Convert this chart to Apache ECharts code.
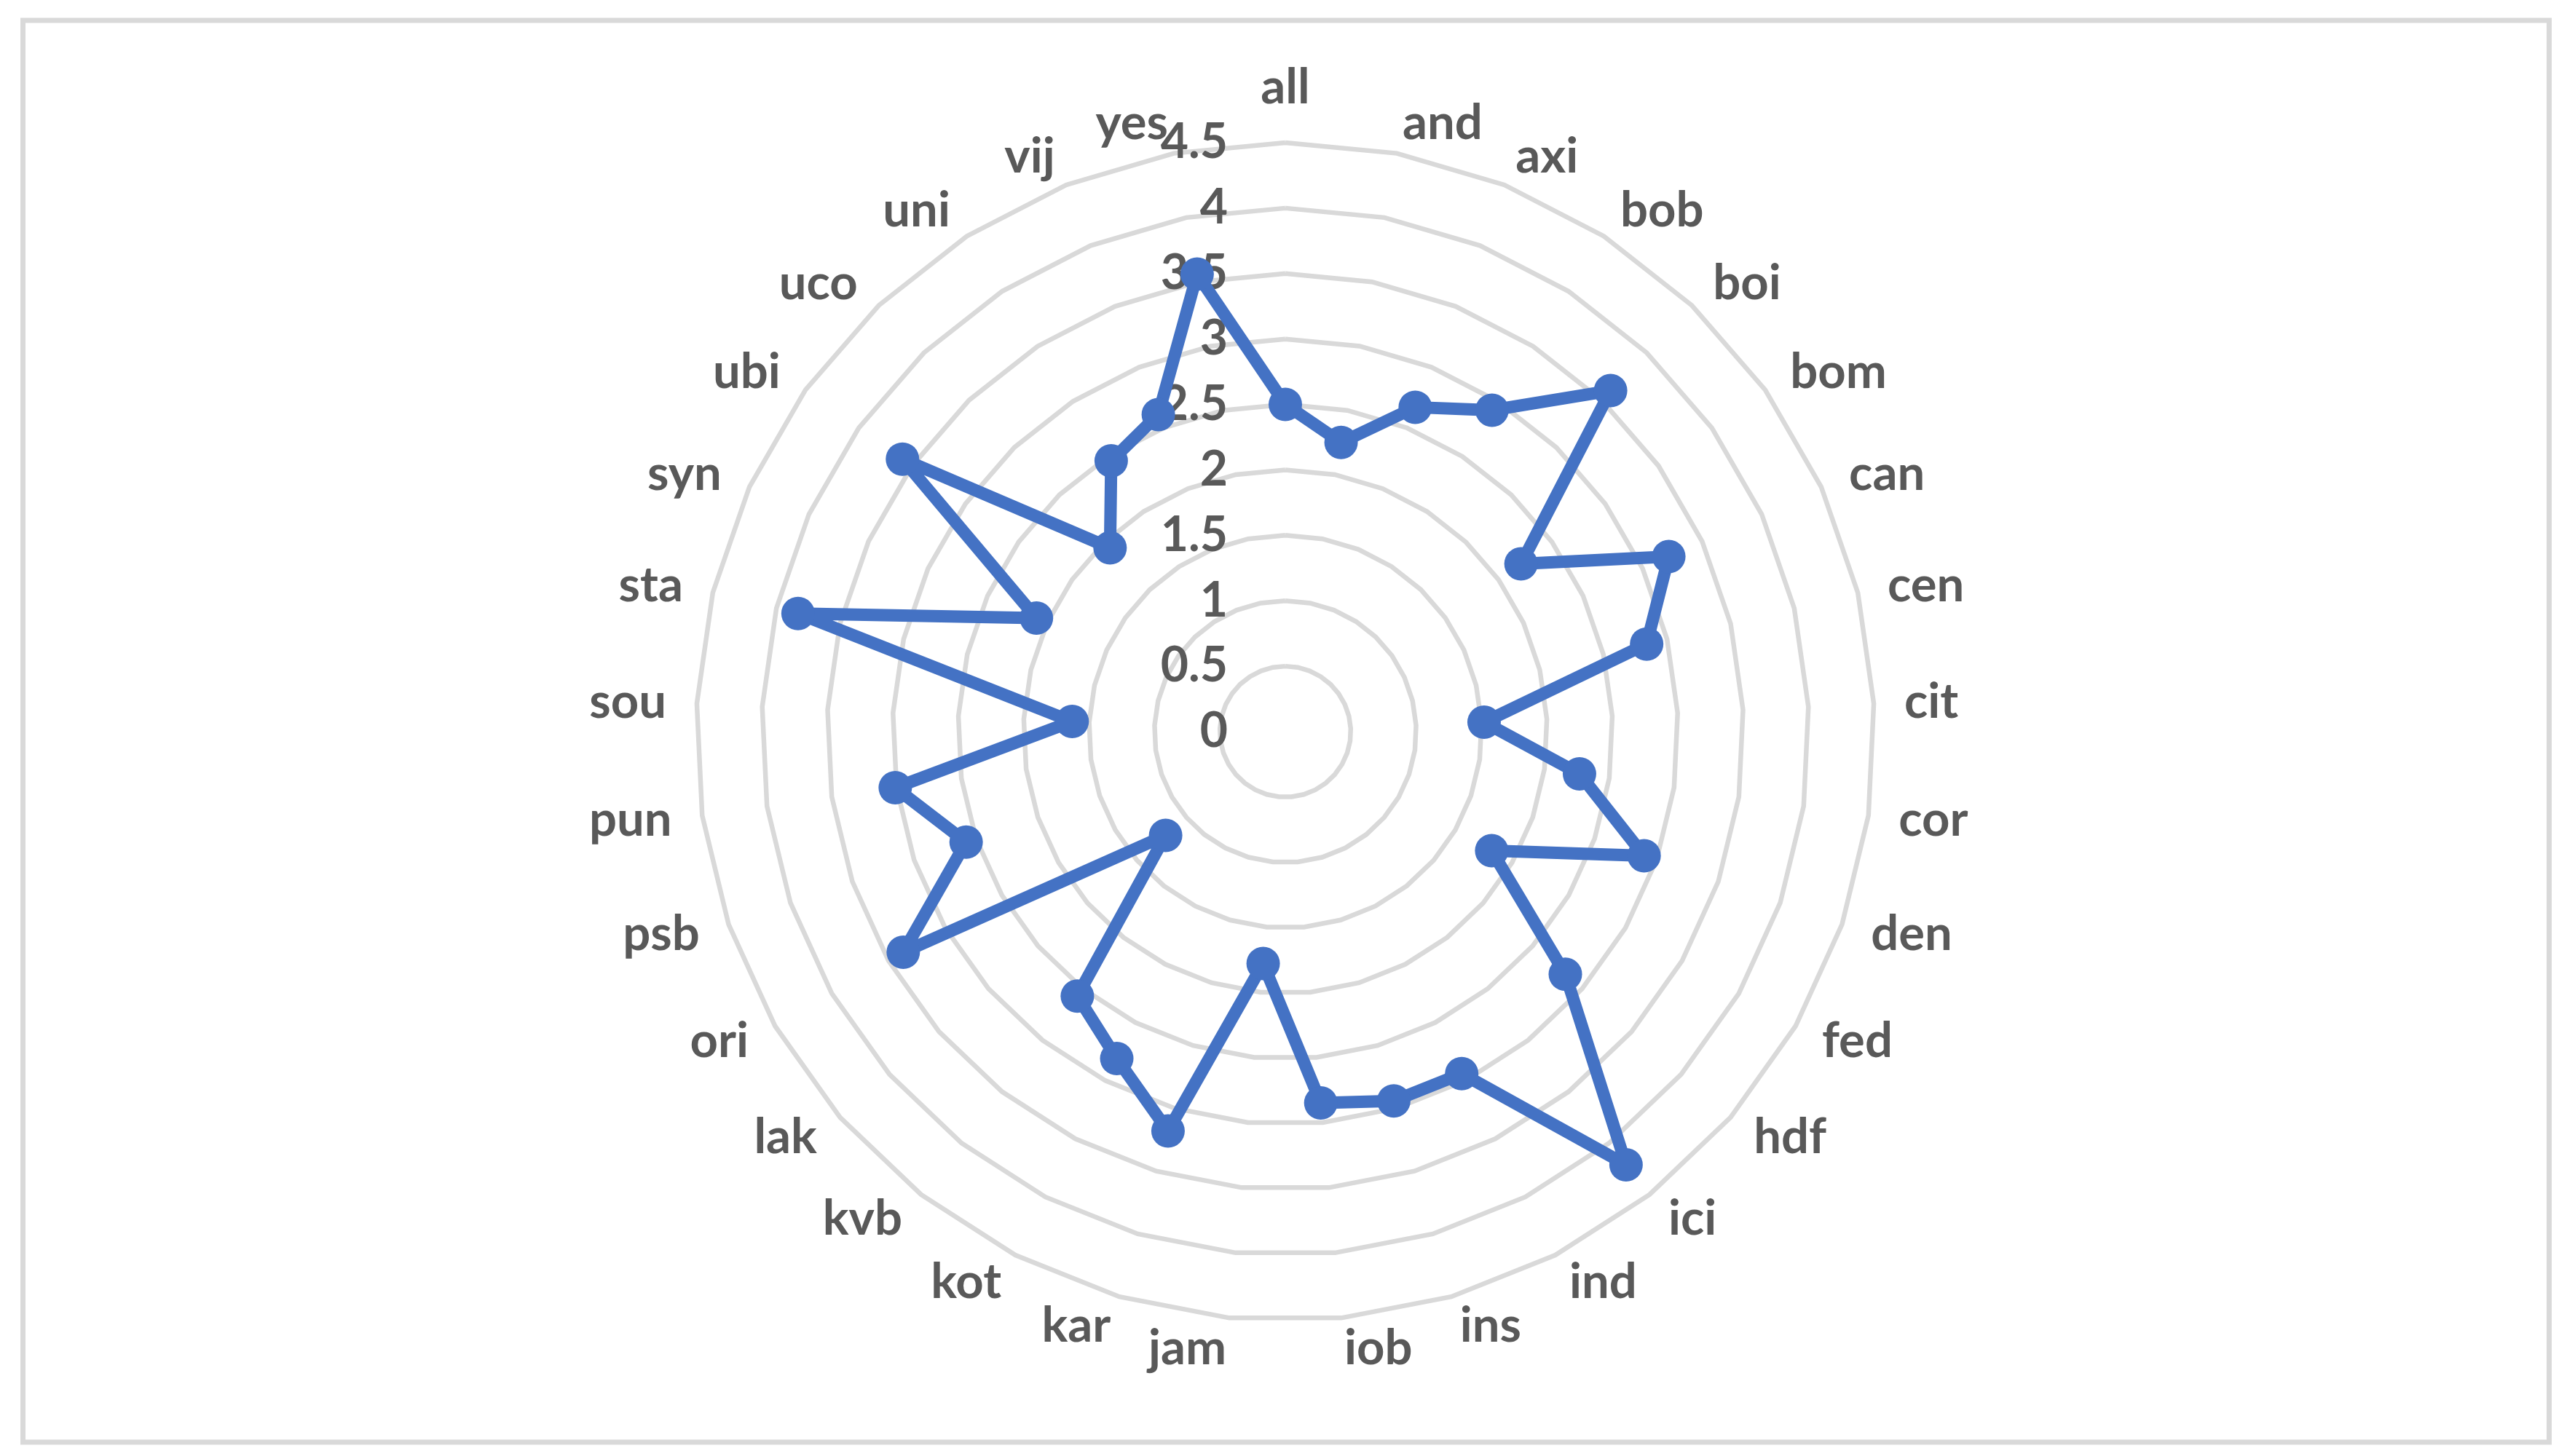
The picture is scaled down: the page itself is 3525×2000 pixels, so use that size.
<!DOCTYPE html>
<html>
<head>
<meta charset="utf-8">
<style>
html, body { margin: 0; padding: 0; background: #fff; }
#chart { width: 3525px; height: 2000px; }
</style>
<script src="https://cdn.jsdelivr.net/npm/echarts@6/dist/echarts.min.js"></script>
</head>
<body>
<div id="chart"></div>
<script>
// categories, clockwise from the top
var categories = ['all', 'and', 'axi', 'bob', 'boi', 'bom', 'can', 'cen', 'cit', 'cor', 'den',
	'fed', 'hdf', 'ici', 'ind', 'ins', 'iob', 'jam', 'kar', 'kot', 'kvb', 'lak', 'ori', 'psb',
	'pun', 'sou', 'sta', 'syn', 'ubi', 'uco', 'uni', 'vij', 'yes'];
var values = [2.5, 2.25, 2.67, 2.92, 3.6, 2.21, 3.22, 2.84, 1.52, 2.27, 2.9,
	1.82, 2.83, 4.21, 2.94, 2.94, 2.85, 1.78, 3.18, 2.81, 2.57, 1.21, 3.37, 2.58,
	3.01, 1.63, 3.83, 2.09, 3.59, 1.94, 2.46, 2.61, 3.56];
var axisMin = 0;
var axisMax = 4.5;
var axisSteps = 9;

var textColor = '#595959';
var font = 'Lato';

// echarts lays the radar out counter-clockwise, so keep the first one and flip the rest
function clockwise(arr) {
	return [arr[0]].concat(arr.slice(1).reverse());
}
var cats = clockwise(categories);
var vals = clockwise(values);

var indicator = cats.map(function(c, i) {
	var ind = { name: c, min: axisMin, max: axisMax };
	if(i == 0) {
		ind.axisLabel = {
			show: true,
			color: textColor,
			fontFamily: font,
			fontWeight: 'bold',
			fontSize: 66,
			margin: 79
		};
	}
	return ind;
});

var chart = echarts.init(document.getElementById('chart'));
chart.setOption({
	backgroundColor: '#ffffff',
	animation: false,
	graphic: [{
		type: 'rect',
		shape: { x: 31.5, y: 28, width: 3469, height: 1953 },
		style: { fill: null, stroke: '#d9d9d9', lineWidth: 7 },
		silent: true
	}],
	radar: {
		center: [1765, 1005],
		radius: 809,
		startAngle: 90,
		shape: 'polygon',
		splitNumber: axisSteps,
		indicator: indicator,
		axisName: {
			color: textColor,
			fontFamily: font,
			fontWeight: 'bold',
			fontSize: 67
		},
		nameGap: 42,
		axisLine: { show: false },
		axisTick: { show: false },
		axisLabel: { show: false },
		splitArea: { show: false },
		splitLine: { lineStyle: { color: '#d9d9d9', width: 6.5 } }
	},
	series: [{
		type: 'radar',
		symbol: 'circle',
		symbolSize: 46,
		itemStyle: { color: '#4472c4' },
		lineStyle: { color: '#4472c4', width: 17 },
		data: [{ value: vals, name: 'score' }]
	}]
});
</script>
</body>
</html>
